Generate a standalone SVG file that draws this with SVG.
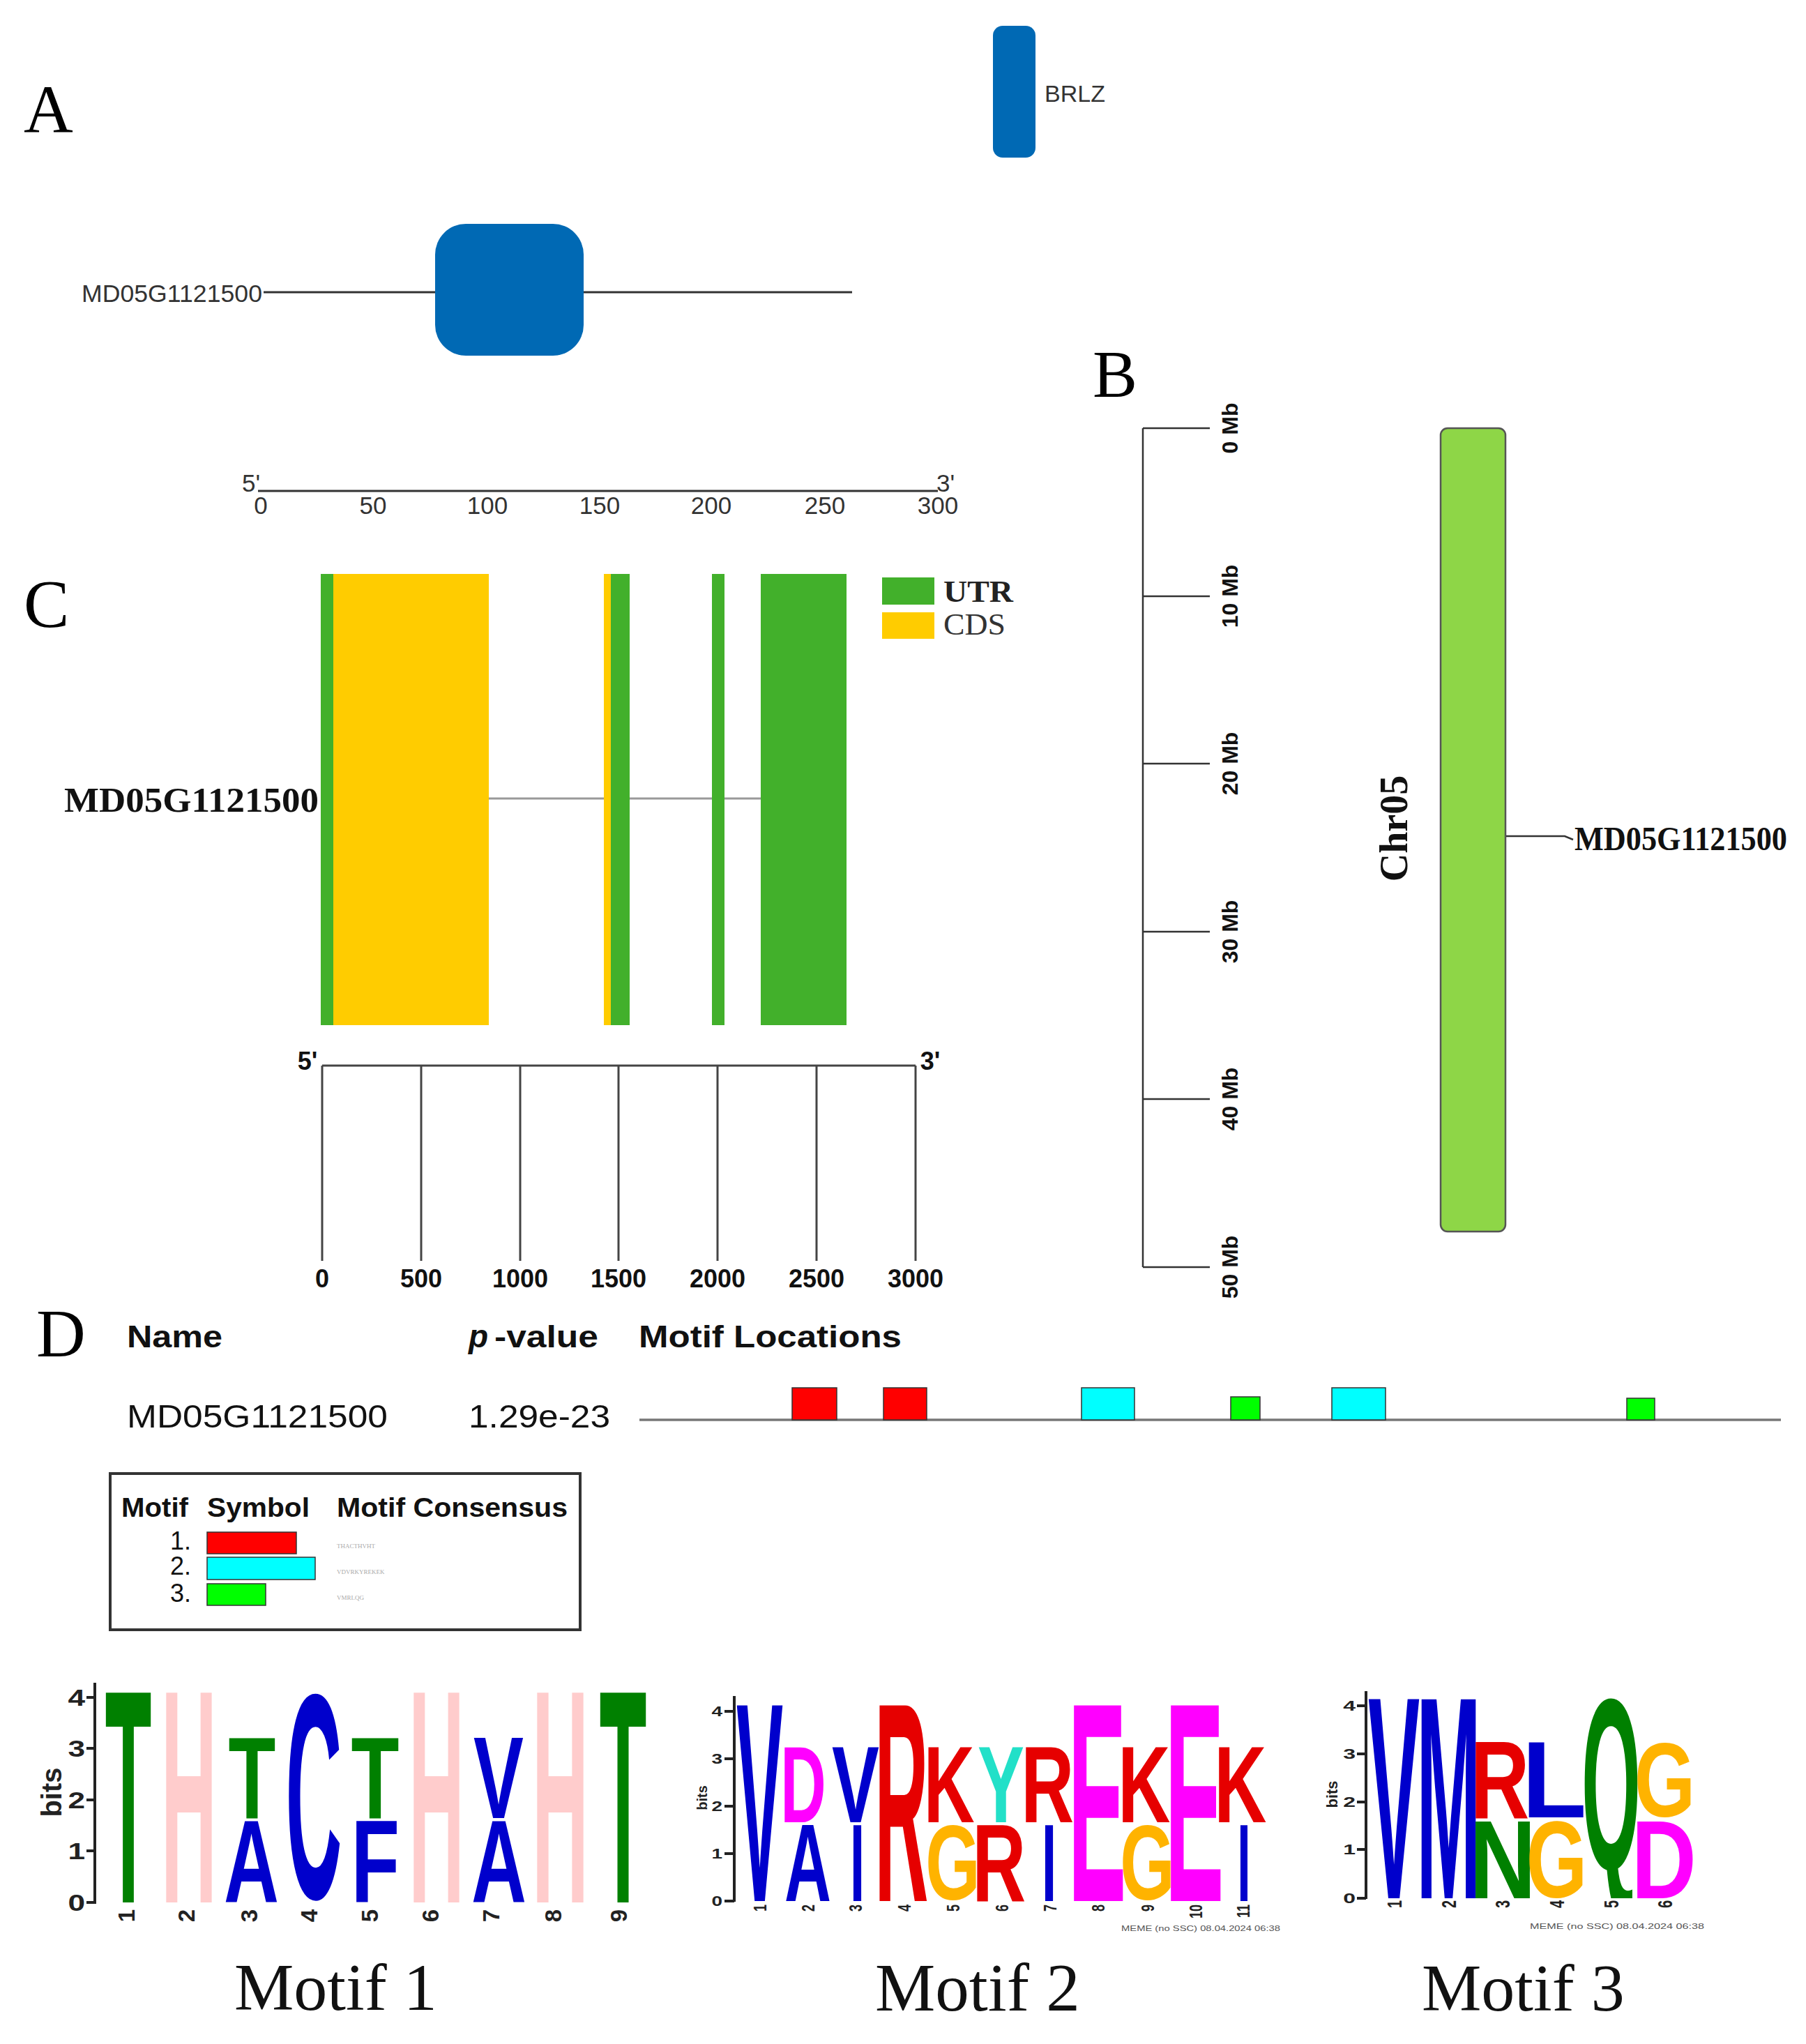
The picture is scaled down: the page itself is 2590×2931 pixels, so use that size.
<svg xmlns="http://www.w3.org/2000/svg" width="2590" height="2931" viewBox="0 0 2590 2931">
<style>
.serif{font-family:"Liberation Serif","Times New Roman",serif}
.sans{font-family:"Liberation Sans",Arial,sans-serif}
.b{font-weight:bold}
.lg{font-family:"Liberation Sans",Arial,sans-serif;font-weight:bold;font-size:100px;text-anchor:middle}
.ax{stroke:#222;stroke-width:4;fill:none}
.blu{fill:#0000cc}.grn{fill:#008000}.pnk{fill:#ffcccc}.red{fill:#e60000}.mag{fill:#ff00ff}.org{fill:#ffb300}.tur{fill:#22e0c8}
.mot{stroke:#333;stroke-width:1.5}
</style>
<defs>
<clipPath id="clip3"><rect x="1955" y="2380" width="480" height="342"/></clipPath>
</defs>
<rect width="2590" height="2931" fill="#fff"/>

<!-- Panel A -->
<g id="panelA">
<text class="serif" x="34" y="189" font-size="98">A</text>
</g>
<g id="brlz-legend">
<rect x="1424" y="37" width="61" height="189" rx="14" fill="#0069b4"/>
<text class="sans" x="1498" y="146" font-size="34" fill="#333">BRLZ</text>
</g>
<g id="protein-MD05G1121500">
<line x1="378" y1="419" x2="1222" y2="419" stroke="#333" stroke-width="3"/>
<text class="sans" x="117" y="433" font-size="35" fill="#333" textLength="259" lengthAdjust="spacingAndGlyphs">MD05G1121500</text>
<rect x="624" y="321" width="213" height="189" rx="44" fill="#0069b4"/>
</g>
<g id="scaleA" class="sans" font-size="35" fill="#333" text-anchor="middle">
<line x1="370" y1="704" x2="1345" y2="704" stroke="#333" stroke-width="3"/>
<text x="360" y="705">5'</text>
<text x="1356" y="705">3'</text>
<text x="374" y="737">0</text>
<text x="535" y="737">50</text>
<text x="699" y="737">100</text>
<text x="860" y="737">150</text>
<text x="1020" y="737">200</text>
<text x="1183" y="737">250</text>
<text x="1345" y="737">300</text>
</g>

<!-- Panel C -->
<g id="panelC">
<text class="serif" x="34" y="899" font-size="98">C</text>
</g>
<g id="gene-MD05G1121500">
<line x1="460" y1="1145" x2="1214" y2="1145" stroke="#999" stroke-width="3"/>
<rect x="460" y="823" width="18" height="647" fill="#42b02b"/>
<rect x="478" y="823" width="223" height="647" fill="#ffcc00"/>
<rect x="866" y="823" width="10" height="647" fill="#ffcc00"/>
<rect x="876" y="823" width="27" height="647" fill="#42b02b"/>
<rect x="1021" y="823" width="18" height="647" fill="#42b02b"/>
<rect x="1091" y="823" width="123" height="647" fill="#42b02b"/>
<text class="serif b" x="92" y="1164" font-size="50" fill="#111" textLength="365" lengthAdjust="spacingAndGlyphs">MD05G1121500</text>
</g>
<g id="legendC">
<rect x="1265" y="828" width="75" height="39" fill="#42b02b"/>
<rect x="1265" y="878" width="75" height="38" fill="#ffcc00"/>
<text class="serif b" x="1353" y="863" font-size="44" fill="#222" textLength="100" lengthAdjust="spacingAndGlyphs">UTR</text>
<text class="serif" x="1353" y="910" font-size="44" fill="#333" textLength="89" lengthAdjust="spacingAndGlyphs">CDS</text>
</g>
<g id="scaleC" class="sans b" font-size="36" fill="#111" text-anchor="middle">
<path d="M462 1528H1313M462 1528V1808M604 1528V1808M746 1528V1808M887 1528V1808M1029 1528V1808M1171 1528V1808M1313 1528V1808" stroke="#444" stroke-width="3" fill="none"/>
<text x="441" y="1534">5'</text>
<text x="1334" y="1534">3'</text>
<text x="462" y="1846">0</text>
<text x="604" y="1846">500</text>
<text x="746" y="1846">1000</text>
<text x="887" y="1846">1500</text>
<text x="1029" y="1846">2000</text>
<text x="1171" y="1846">2500</text>
<text x="1313" y="1846">3000</text>
</g>

<!-- Panel B -->
<g id="panelB">
<text class="serif" x="1567" y="569" font-size="96">B</text>
</g>
<g id="scaleB" class="sans b" font-size="32" fill="#111" text-anchor="middle">
<path d="M1639 614V1817M1639 614H1735M1639 855H1735M1639 1095H1735M1639 1336H1735M1639 1576H1735M1639 1817H1735" stroke="#333" stroke-width="2.5" fill="none"/>
<text transform="translate(1775,614) rotate(-90)">0 Mb</text>
<text transform="translate(1775,855) rotate(-90)">10 Mb</text>
<text transform="translate(1775,1095) rotate(-90)">20 Mb</text>
<text transform="translate(1775,1336) rotate(-90)">30 Mb</text>
<text transform="translate(1775,1576) rotate(-90)">40 Mb</text>
<text transform="translate(1775,1817) rotate(-90)">50 Mb</text>
</g>
<g id="chr05">
<rect x="2066" y="614" width="93" height="1152" rx="10" fill="#8ed647" stroke="#555" stroke-width="2.5"/>
<text class="serif b" transform="translate(2018,1188) rotate(-90)" font-size="56" text-anchor="middle" fill="#111">Chr05</text>
</g>
<g id="connectors">
<polyline points="2160,1199 2244,1199 2256,1204" fill="none" stroke="#333" stroke-width="2.5"/>
</g>
<g id="locus-MD05G1121500">
<text class="serif b" x="2258" y="1219" font-size="48" fill="#111" textLength="305" lengthAdjust="spacingAndGlyphs">MD05G1121500</text>
</g>

<!-- Panel D -->
<g id="panelD">
<text class="serif" x="52" y="1945" font-size="98">D</text>
</g>
<g id="meme-table" class="sans" fill="#111">
<text class="b" x="182" y="1932" font-size="44" textLength="137" lengthAdjust="spacingAndGlyphs">Name</text>
<text class="b" x="672" y="1932" font-size="46" font-style="italic">p</text>
<text class="b" x="709" y="1932" font-size="44" textLength="149" lengthAdjust="spacingAndGlyphs">-value</text>
<text class="b" x="916" y="1932" font-size="44" textLength="377" lengthAdjust="spacingAndGlyphs">Motif Locations</text>
<text x="182" y="2047" font-size="46" textLength="374" lengthAdjust="spacingAndGlyphs">MD05G1121500</text>
<text x="672" y="2047" font-size="46" textLength="203" lengthAdjust="spacingAndGlyphs">1.29e-23</text>
</g>
<g id="motif-track">
<line x1="917" y1="2036" x2="2554" y2="2036" stroke="#777" stroke-width="3.5"/>
<rect class="mot" x="1136" y="1990" width="64" height="46" fill="#ff0000"/>
<rect class="mot" x="1267" y="1990" width="62" height="46" fill="#ff0000"/>
<rect class="mot" x="1551" y="1990" width="76" height="46" fill="#00ffff"/>
<rect class="mot" x="1765" y="2003" width="42" height="33" fill="#00ff00"/>
<rect class="mot" x="1910" y="1990" width="77" height="46" fill="#00ffff"/>
<rect class="mot" x="2333" y="2005" width="40" height="31" fill="#00ff00"/>
</g>
<g id="motif-legend">
<rect x="158" y="2113" width="674" height="224" fill="none" stroke="#333" stroke-width="4"/>
<g class="sans b" font-size="39" fill="#111">
<text x="174" y="2175" textLength="96" lengthAdjust="spacingAndGlyphs">Motif</text>
<text x="297" y="2175" textLength="147" lengthAdjust="spacingAndGlyphs">Symbol</text>
<text x="483" y="2175" textLength="331" lengthAdjust="spacingAndGlyphs">Motif Consensus</text>
</g>
<g class="sans" font-size="36" fill="#111" text-anchor="end">
<text x="274" y="2222">1.</text>
<text x="274" y="2258">2.</text>
<text x="274" y="2297">3.</text>
</g>
<rect class="mot" x="297" y="2197" width="128" height="31" fill="#ff0000"/>
<rect class="mot" x="297" y="2233" width="155" height="32" fill="#00ffff"/>
<rect class="mot" x="297" y="2271" width="84" height="31" fill="#00ff00"/>
<g class="serif" font-size="9" fill="#aaa">
<text x="483" y="2220">THACTHVHT</text>
<text x="483" y="2257">VDVRKYREKEK</text>
<text x="483" y="2294">VMRLQG</text>
</g>
</g>

<!-- Motif 1 logo -->
<g id="logo-motif1">
<path class="ax" d="M136 2413V2730M124 2728H136M124 2654H136M124 2581H136M124 2507H136M124 2434H136"/>
<g class="sans b" font-size="34" fill="#222" text-anchor="end">
<text transform="translate(122,2740) scale(1.3,1)">0</text>
<text transform="translate(122,2666) scale(1.3,1)">1</text>
<text transform="translate(122,2593) scale(1.3,1)">2</text>
<text transform="translate(122,2519) scale(1.3,1)">3</text>
<text transform="translate(122,2446) scale(1.3,1)">4</text>
</g>
<text class="sans b" transform="translate(88,2570) rotate(-90)" font-size="40" text-anchor="middle" fill="#222">bits</text>
<text class="lg grn" transform="translate(184,2728) scale(1.093,4.372)">T</text>
<text class="lg pnk" transform="translate(271,2728) scale(1.111,4.372)">H</text>
<text class="lg blu" transform="translate(360.5,2728) scale(1.094,1.69)">A</text>
<text class="lg grn" transform="translate(361.5,2607) scale(1.111,1.676)">T</text>
<text class="lg blu" transform="translate(450,2721.7) scale(1.115,4.196)">C</text>
<text class="lg blu" transform="translate(538.4,2728) scale(1.139,1.69)">F</text>
<text class="lg grn" transform="translate(538,2607) scale(1.129,1.676)">T</text>
<text class="lg pnk" transform="translate(626,2728) scale(1.111,4.372)">H</text>
<text class="lg blu" transform="translate(715.5,2728) scale(1.094,1.69)">A</text>
<text class="lg blu" transform="translate(715,2607) scale(1.078,1.676)">V</text>
<text class="lg pnk" transform="translate(803.5,2728) scale(1.128,4.372)">H</text>
<text class="lg grn" transform="translate(893.5,2728) scale(1.111,4.372)">T</text>
<g class="sans b" font-size="33" fill="#222" text-anchor="end">
<text transform="translate(193,2738) rotate(-90)">1</text>
<text transform="translate(279,2738) rotate(-90)">2</text>
<text transform="translate(369,2738) rotate(-90)">3</text>
<text transform="translate(455,2738) rotate(-90)">4</text>
<text transform="translate(542,2738) rotate(-90)">5</text>
<text transform="translate(629,2738) rotate(-90)">6</text>
<text transform="translate(716,2738) rotate(-90)">7</text>
<text transform="translate(805,2738) rotate(-90)">8</text>
<text transform="translate(899,2738) rotate(-90)">9</text>
</g>
<text class="serif" x="336" y="2882" font-size="96" fill="#111">Motif 1</text>
</g>

<!-- Motif 2 logo -->
<g id="logo-motif2">
<path class="ax" d="M1053 2432V2727M1039 2726H1053M1039 2658H1053M1039 2590H1053M1039 2522H1053M1039 2454H1053" stroke-width="3"/>
<g class="sans b" font-size="20" fill="#222" text-anchor="end">
<text transform="translate(1036,2733) scale(1.4,1)">0</text>
<text transform="translate(1036,2665) scale(1.4,1)">1</text>
<text transform="translate(1036,2597) scale(1.4,1)">2</text>
<text transform="translate(1036,2529) scale(1.4,1)">3</text>
<text transform="translate(1036,2461) scale(1.4,1)">4</text>
</g>
<text class="sans b" transform="translate(1014,2578) rotate(-90)" font-size="20" text-anchor="middle" fill="#222">bits</text>
<text class="lg blu" transform="translate(1089.5,2726) scale(1.003,4.078)">V</text>
<text class="lg blu" transform="translate(1158.5,2726) scale(0.928,1.578)">A</text>
<text class="lg mag" transform="translate(1152,2613) scale(0.906,1.564)">D</text>
<text class="lg blu" transform="translate(1229.5,2726) scale(0.775,1.578)">I</text>
<text class="lg blu" transform="translate(1227,2613) scale(1.018,1.564)">V</text>
<text class="lg red" transform="translate(1292.8,2726) scale(1.066,4.078)">R</text>
<text class="lg org" transform="translate(1366.5,2723.7) scale(1.009,1.515)">G</text>
<text class="lg red" transform="translate(1361.1,2613) scale(1.009,1.564)">K</text>
<text class="lg red" transform="translate(1432.8,2726) scale(1.066,1.578)">R</text>
<text class="lg tur" transform="translate(1435.5,2613) scale(1.004,1.564)">Y</text>
<text class="lg blu" transform="translate(1504.5,2726) scale(0.775,1.578)">I</text>
<text class="lg red" transform="translate(1502.3,2613) scale(1.051,1.564)">R</text>
<text class="lg mag" transform="translate(1573.5,2726) scale(1.25,4.078)">E</text>
<text class="lg org" transform="translate(1645.5,2723.7) scale(1.009,1.515)">G</text>
<text class="lg red" transform="translate(1640.9,2613) scale(1.04,1.564)">K</text>
<text class="lg mag" transform="translate(1713,2726) scale(1.268,4.078)">E</text>
<text class="lg blu" transform="translate(1784,2726) scale(0.7,1.578)">I</text>
<text class="lg red" transform="translate(1778.9,2613) scale(1.04,1.564)">K</text>
<g class="sans b" font-size="18" fill="#222" text-anchor="end">
<text transform="translate(1099,2731) scale(1.45,1) rotate(-90)">1</text>
<text transform="translate(1168,2731) scale(1.45,1) rotate(-90)">2</text>
<text transform="translate(1236,2731) scale(1.45,1) rotate(-90)">3</text>
<text transform="translate(1306,2731) scale(1.45,1) rotate(-90)">4</text>
<text transform="translate(1376,2731) scale(1.45,1) rotate(-90)">5</text>
<text transform="translate(1446,2731) scale(1.45,1) rotate(-90)">6</text>
<text transform="translate(1515,2731) scale(1.45,1) rotate(-90)">7</text>
<text transform="translate(1584,2731) scale(1.45,1) rotate(-90)">8</text>
<text transform="translate(1655,2731) scale(1.45,1) rotate(-90)">9</text>
<text transform="translate(1724,2731) scale(1.45,1) rotate(-90)">10</text>
<text transform="translate(1792,2731) scale(1.45,1) rotate(-90)">11</text>
</g>
<text class="sans" x="1608" y="2769" font-size="11" fill="#555" textLength="228" lengthAdjust="spacingAndGlyphs">MEME (no SSC) 08.04.2024 06:38</text>
<text class="serif" x="1255" y="2883" font-size="97" fill="#111">Motif 2</text>
</g>

<!-- Motif 3 logo -->
<g id="logo-motif3">
<path class="ax" d="M1959 2425V2723M1946 2722H1959M1946 2652H1959M1946 2584H1959M1946 2515H1959M1946 2446H1959" stroke-width="3"/>
<g class="sans b" font-size="20" fill="#222" text-anchor="end">
<text transform="translate(1944,2729) scale(1.6,1)">0</text>
<text transform="translate(1944,2659) scale(1.6,1)">1</text>
<text transform="translate(1944,2591) scale(1.6,1)">2</text>
<text transform="translate(1944,2522) scale(1.6,1)">3</text>
<text transform="translate(1944,2453) scale(1.6,1)">4</text>
</g>
<text class="sans b" transform="translate(1918,2573) rotate(-90)" font-size="22" text-anchor="middle" fill="#222">bits</text>
<g clip-path="url(#clip3)">
<text class="lg blu" transform="translate(1999,2722) scale(1.108,4.148)">V</text>
<text class="lg blu" transform="translate(2077.5,2722) scale(1.11,4.148)">M</text>
<text class="lg grn" transform="translate(2155,2722) scale(1.324,1.592)">N</text>
<text class="lg red" transform="translate(2150.9,2608) scale(1.175,1.592)">R</text>
<text class="lg org" transform="translate(2232.5,2719.7) scale(1.126,1.555)">G</text>
<text class="lg blu" transform="translate(2229,2606) scale(1.52,1.564)">L</text>
<text class="lg grn" transform="translate(2310.5,2680) scale(1.088,3.5)">Q</text>
<text class="lg mag" transform="translate(2386.2,2722) scale(1.292,1.592)">D</text>
<text class="lg org" transform="translate(2387.5,2604.7) scale(1.126,1.501)">G</text>
</g>
<g class="sans b" font-size="20" fill="#222" text-anchor="end">
<text transform="translate(2010,2725) scale(1.45,1) rotate(-90)">1</text>
<text transform="translate(2088,2725) scale(1.45,1) rotate(-90)">2</text>
<text transform="translate(2165,2725) scale(1.45,1) rotate(-90)">3</text>
<text transform="translate(2243,2725) scale(1.45,1) rotate(-90)">4</text>
<text transform="translate(2321,2725) scale(1.45,1) rotate(-90)">5</text>
<text transform="translate(2398,2725) scale(1.45,1) rotate(-90)">6</text>
</g>
<text class="sans" x="2194" y="2766" font-size="11" fill="#555" textLength="250" lengthAdjust="spacingAndGlyphs">MEME (no SSC) 08.04.2024 06:38</text>
<text class="serif" x="2039" y="2883" font-size="96" fill="#111">Motif 3</text>
</g>
</svg>
